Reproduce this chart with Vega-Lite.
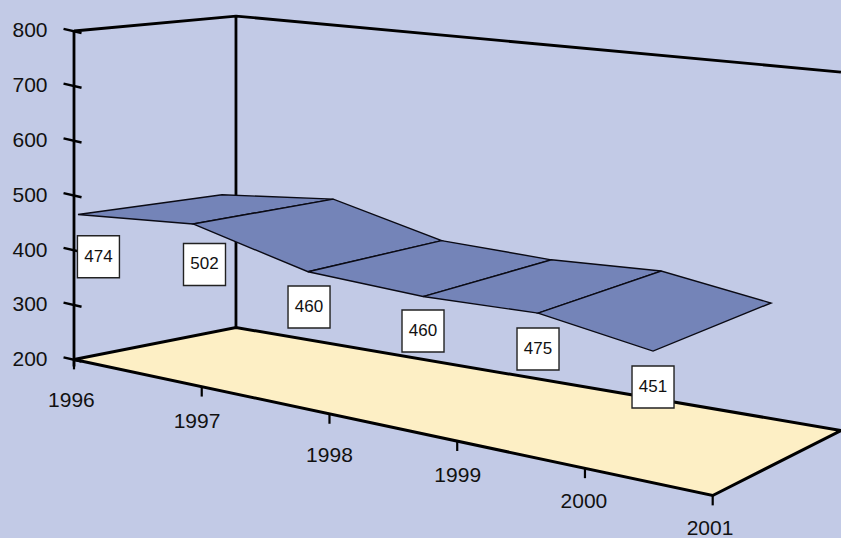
{
  "$schema": "https://vega.github.io/schema/vega-lite/v6.json",
  "width": 841,
  "height": 538,
  "padding": 0,
  "autosize": {"type": "none"},
  "background": "#C2CAE6",
  "view": {"stroke": null},
  "config": {"font": "Liberation Sans"},
  "datasets": {
    "frame": [
      {"shape": "floor", "corner": 1, "year": 1996, "depth": 0, "value": 200},
      {"shape": "floor", "corner": 2, "year": 2001, "depth": 0, "value": 200},
      {"shape": "floor", "corner": 3, "year": 2001, "depth": 1, "value": 200},
      {"shape": "floor", "corner": 4, "year": 1996, "depth": 1, "value": 200}
    ],
    "wall": [
      {"edge": "top", "corner": 1, "year": 1996, "depth": 0, "value": 800},
      {"edge": "top", "corner": 2, "year": 1996, "depth": 1, "value": 800},
      {"edge": "top", "corner": 3, "year": 2001, "depth": 1, "value": 800},
      {"edge": "back", "corner": 1, "year": 1996, "depth": 1, "value": 800},
      {"edge": "back", "corner": 2, "year": 1996, "depth": 1, "value": 200},
      {"edge": "front", "corner": 1, "year": 1996, "depth": 0, "value": 800},
      {"edge": "front", "corner": 2, "year": 1996, "depth": 0, "value": 187}
    ],
    "scaleTicks": [
      {"value": 200}, {"value": 300}, {"value": 400}, {"value": 500},
      {"value": 600}, {"value": 700}, {"value": 800}
    ],
    "years": [
      {"year": 1996, "value": 474},
      {"year": 1997, "value": 502},
      {"year": 1998, "value": 460},
      {"year": 1999, "value": 460},
      {"year": 2000, "value": 475},
      {"year": 2001, "value": 451}
    ],
    "ribbon": [
      {"cell": 1, "corner": 1, "year": 1996, "lane": 0, "value": 474},
      {"cell": 1, "corner": 2, "year": 1997, "lane": 0, "value": 502},
      {"cell": 1, "corner": 3, "year": 1997, "lane": 1, "value": 502},
      {"cell": 1, "corner": 4, "year": 1996, "lane": 1, "value": 474},
      {"cell": 2, "corner": 1, "year": 1997, "lane": 0, "value": 502},
      {"cell": 2, "corner": 2, "year": 1998, "lane": 0, "value": 460},
      {"cell": 2, "corner": 3, "year": 1998, "lane": 1, "value": 460},
      {"cell": 2, "corner": 4, "year": 1997, "lane": 1, "value": 502},
      {"cell": 3, "corner": 1, "year": 1998, "lane": 0, "value": 460},
      {"cell": 3, "corner": 2, "year": 1999, "lane": 0, "value": 460},
      {"cell": 3, "corner": 3, "year": 1999, "lane": 1, "value": 460},
      {"cell": 3, "corner": 4, "year": 1998, "lane": 1, "value": 460},
      {"cell": 4, "corner": 1, "year": 1999, "lane": 0, "value": 460},
      {"cell": 4, "corner": 2, "year": 2000, "lane": 0, "value": 475},
      {"cell": 4, "corner": 3, "year": 2000, "lane": 1, "value": 475},
      {"cell": 4, "corner": 4, "year": 1999, "lane": 1, "value": 460},
      {"cell": 5, "corner": 1, "year": 2000, "lane": 0, "value": 475},
      {"cell": 5, "corner": 2, "year": 2001, "lane": 0, "value": 451},
      {"cell": 5, "corner": 3, "year": 2001, "lane": 1, "value": 451},
      {"cell": 5, "corner": 4, "year": 2000, "lane": 1, "value": 475}
    ]
  },
  "encoding": {
    "x": {
      "field": "across",
      "type": "quantitative",
      "scale": {"domain": [1995.4207, 2002.0044], "nice": false, "zero": false},
      "axis": null
    },
    "y": {
      "field": "rise",
      "type": "quantitative",
      "scale": {"domain": [-126, 856.6], "nice": false, "zero": false},
      "axis": {
        "values": [200, 300, 400, 500, 600, 700, 800],
        "title": null,
        "grid": false,
        "domain": false,
        "ticks": false,
        "offset": -47,
        "labelPadding": 0,
        "labelFontSize": 21,
        "labelColor": "#111111",
        "labelFont": "Liberation Sans"
      }
    }
  },
  "layer": [
    {
      "data": {"name": "wall"},
      "transform": [
        {"calculate": "(datum.year - 1996) / 5", "as": "t"},
        {"calculate": "datum.year + datum.depth * (1.268 - 0.264 * datum.t)", "as": "across"},
        {"calculate": "200 + (datum.value - 200) * (1 - 0.052 * datum.depth + 0.14 * datum.t * datum.depth) - (136 * datum.t - 32 * datum.depth - 34 * datum.t * datum.depth) / 0.5475", "as": "rise"}
      ],
      "mark": {"type": "line", "stroke": "#000000", "strokeWidth": 2.8, "clip": true},
      "encoding": {"detail": {"field": "edge"}, "order": {"field": "corner"}}
    },
    {
      "data": {"name": "scaleTicks"},
      "transform": [
        {"calculate": "1995.918", "as": "across"},
        {"calculate": "datum.value + 4", "as": "rise"},
        {"calculate": "1996.059", "as": "across2"},
        {"calculate": "datum.value - 3.6", "as": "rise2"}
      ],
      "mark": {"type": "rule", "stroke": "#000000", "strokeWidth": 2.4},
      "encoding": {"x2": {"field": "across2"}, "y2": {"field": "rise2"}}
    },
    {
      "data": {"name": "years"},
      "transform": [
        {"calculate": "(datum.year - 1996) / 5", "as": "t"},
        {"calculate": "datum.year", "as": "across"},
        {"calculate": "200 - 136 * datum.t / 0.5475", "as": "rise"},
        {"calculate": "datum.rise - 18", "as": "rise2"}
      ],
      "mark": {"type": "rule", "stroke": "#000000", "strokeWidth": 2.2},
      "encoding": {"y2": {"field": "rise2"}}
    },
    {
      "data": {"name": "frame"},
      "transform": [
        {"calculate": "(datum.year - 1996) / 5", "as": "t"},
        {"calculate": "datum.year + datum.depth * (1.268 - 0.264 * datum.t)", "as": "across"},
        {"calculate": "200 - (136 * datum.t - 32 * datum.depth - 34 * datum.t * datum.depth) / 0.5475 - 1.8 * datum.t * datum.depth", "as": "rise"}
      ],
      "mark": {"type": "line", "interpolate": "linear-closed", "fill": "#FDEFC5", "stroke": "#000000", "strokeWidth": 3, "strokeJoin": "miter"},
      "encoding": {"order": {"field": "corner"}}
    },
    {
      "data": {"name": "ribbon"},
      "transform": [
        {"calculate": "datum.year - 1996", "as": "i"},
        {"calculate": "datum.lane == 0 ? 1996.0313 + 0.9003 * datum.i : 1997.1586 + 0.8596 * datum.i + (datum.i == 1 ? 0.012 : 0)", "as": "across"},
        {"calculate": "datum.lane == 0 ? datum.value - 9.13 - 45.3 * datum.i : 235.6 + 0.968 * (datum.value - 200) - 35.07 * datum.i", "as": "rise"}
      ],
      "mark": {"type": "line", "interpolate": "linear-closed", "fill": "#7484B8", "stroke": "#0A0A14", "strokeWidth": 1.4},
      "encoding": {"detail": {"field": "cell"}, "order": {"field": "corner"}}
    },
    {
      "data": {"name": "years"},
      "transform": [
        {"calculate": "datum.year - 1996", "as": "i"},
        {"calculate": "1996.0313 + 0.9003 * datum.i + [0.16, 0.09, 0.008, 0, 0, 0][datum.i]", "as": "across"},
        {"calculate": "datum.value - 9.13 - 45.3 * datum.i - [77.1, 74, 64.5, 63, 65.6, 65.6][datum.i]", "as": "rise"}
      ],
      "layer": [
        {
          "mark": {"type": "point", "shape": "square", "size": 1764, "filled": true, "fill": "#FFFFFF", "stroke": "#222222", "strokeWidth": 1.4, "opacity": 1}
        },
        {
          "mark": {"type": "text", "fontSize": 17, "font": "Liberation Sans", "fill": "#111111", "align": "center", "baseline": "middle"},
          "encoding": {"text": {"field": "value", "type": "quantitative"}}
        }
      ]
    },
    {
      "data": {"name": "years"},
      "transform": [
        {"calculate": "datum.year - 1996", "as": "i"},
        {"calculate": "datum.year + [-0.02, -0.037, 0, 0.004, -0.008, -0.021][datum.i]", "as": "across"},
        {"calculate": "200 - 136 * datum.i / 5 / 0.5475 - [75, 64.5, 76, 64.5, 61, 60.5][datum.i]", "as": "rise"}
      ],
      "mark": {"type": "text", "fontSize": 21, "font": "Liberation Sans", "fill": "#111111", "align": "center", "baseline": "middle"},
      "encoding": {"text": {"field": "year", "type": "nominal"}}
    }
  ]
}
